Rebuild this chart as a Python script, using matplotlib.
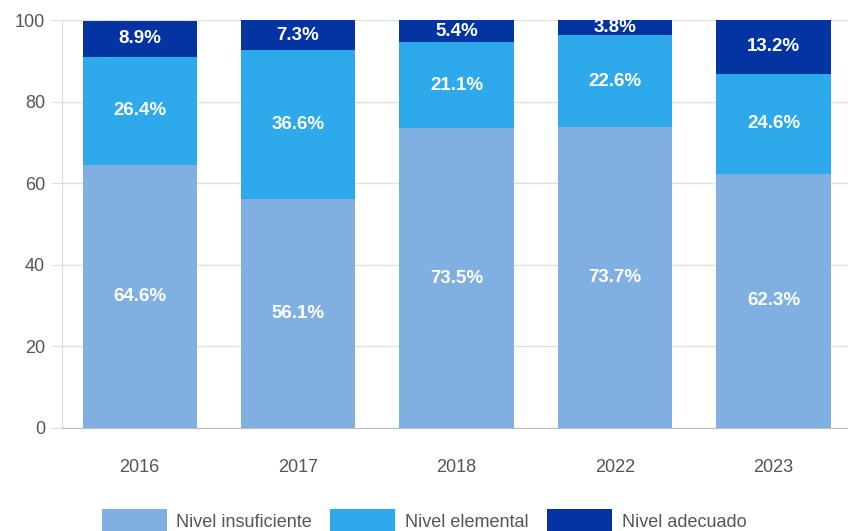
import matplotlib
matplotlib.use("Agg")
import matplotlib.pyplot as plt
import numpy as np

years = ["2016", "2017", "2018", "2022", "2023"]
insuficiente = [64.6, 56.1, 73.5, 73.7, 62.3]
elemental = [26.4, 36.6, 21.1, 22.6, 24.6]
adecuado = [8.9, 7.3, 5.4, 3.8, 13.2]
series_names = ["Nivel insuficiente", "Nivel elemental", "Nivel adecuado"]
colors = ["#80B0E2", "#2DA9EC", "#0434A2"]

plt.rcParams['font.family'] = ['Liberation Sans', 'DejaVu Sans']

fig = plt.figure(figsize=(8.48, 5.31), dpi=100)
ax = fig.add_axes([0.073, 0.194, 0.927, 0.768])

x = np.arange(len(years))
width = 0.72
bottom = np.zeros(len(years))
for vals, name, c in zip([insuficiente, elemental, adecuado], series_names, colors):
    vals = np.array(vals)
    ax.bar(x, vals, width, bottom=bottom, color=c, label=name, zorder=3)
    for xi, b, v in zip(x, bottom, vals):
        ax.text(xi, b + v / 2, f"{v:.1f}%", ha="center", va="center",
                color="white", fontsize=13.5, fontweight="bold", zorder=4)
    bottom = bottom + vals

ax.set_ylim(0, 100)
ax.set_xlim(-0.49, 4.47)
ax.set_yticks([0, 20, 40, 60, 80, 100])
ax.set_xticks(x)
ax.set_xticklabels(years)
ax.grid(axis="y", color="#e0e0e0", linewidth=1, zorder=0)
for s in ["top", "right"]:
    ax.spines[s].set_visible(False)
ax.spines["left"].set_color("#dddddd")
ax.spines["bottom"].set_color("#bbbbbb")
ax.tick_params(axis="y", colors="#555555", labelsize=13, length=8, color="#dddddd", pad=4)
ax.tick_params(axis="x", colors="#555555", labelsize=13, length=0, pad=22)

fig.legend(loc="lower center", bbox_to_anchor=(0.5, -0.035), ncol=3, frameon=False,
           fontsize=13, handlelength=3.6, handleheight=1.7, columnspacing=1.0,
           handletextpad=0.55, labelcolor="#555555")

fig.savefig("out.png", dpi=100)
